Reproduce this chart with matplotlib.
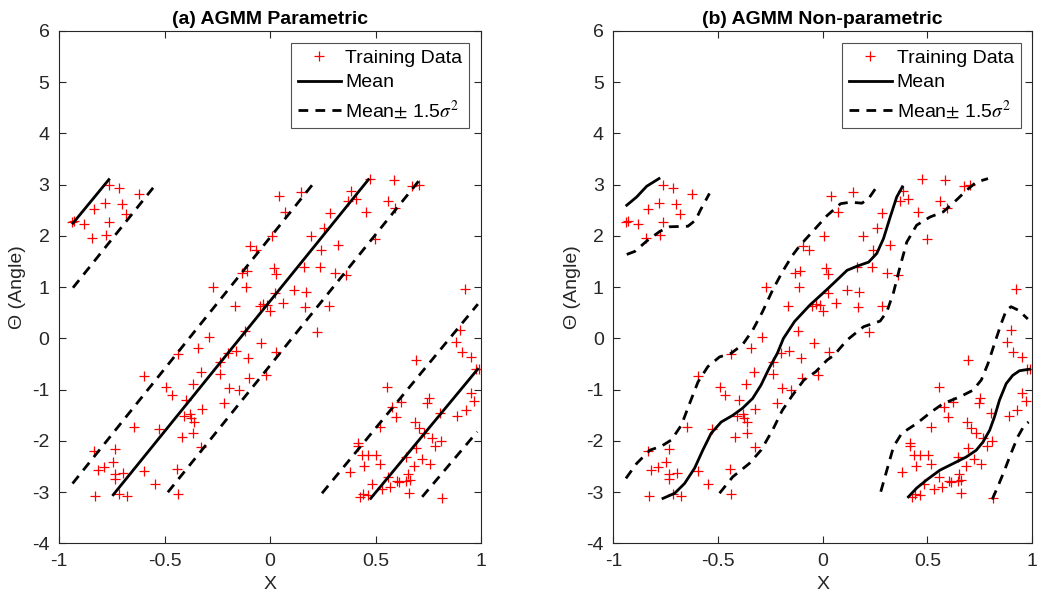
import matplotlib
matplotlib.use("Agg")
import matplotlib.pyplot as plt

plt.rcParams['font.family'] = ['Liberation Sans', 'DejaVu Sans']
plt.rcParams['mathtext.fontset'] = 'stix'
plt.rcParams['axes.unicode_minus'] = False

# training data (shared by both panels)
train_x = [
    -0.940, -0.929, -0.884, -0.845, -0.834, -0.778, -0.782, -0.762, -0.762, -0.717,
    -0.701, -0.682, -0.623, -0.272, -0.166, -0.289,
    -0.436, -0.341, -0.199, -0.161, -0.596, -0.327, -0.240, -0.365, -0.493, -0.465,
    -0.398, -0.324, -0.219, -0.193, -0.150, -0.098, -0.022, -0.408, -0.379, -0.374,
    -0.362, -0.647, -0.528, -0.417, -0.364, -0.326, -0.835, -0.734, -0.747, -0.818,
    -0.786, -0.734, -0.734, -0.696, -0.596, -0.547, -0.443, -0.829, -0.715, -0.679,
    -0.436, -0.240,
    0.040, 0.146, 0.072, 0.008, -0.094, -0.066, -0.134, -0.110, -0.113, 0.016,
    0.026, 0.023, -0.050, -0.034, -0.015, 0.000, 0.061, 0.114, 0.171, 0.167,
    0.162, 0.236, 0.241, 0.194, 0.257, 0.285, 0.320, 0.309, 0.361, 0.222,
    -0.044, -0.118, 0.029, -0.103, 0.385, 0.368, 0.409, 0.472, 0.586, 0.453,
    0.558, 0.594, 0.673, 0.705, 0.498,
    0.281, 0.922, 0.900, 0.881, 0.909, 0.953, 0.694, 0.975, 0.991, 0.953,
    0.969, 0.928, 0.887, 0.555, 0.752, 0.744, 0.580, 0.621, 0.599, 0.804,
    0.519, 0.687, 0.706, 0.732, 0.767, 0.782, 0.808, 0.418, 0.418, 0.437,
    0.463, 0.504, 0.694, 0.646, 0.721, 0.757, 0.684, 0.447, 0.519, 0.380,
    0.557, 0.485, 0.532, 0.567, 0.611, 0.602, 0.652, 0.662, 0.646, 0.659,
    0.428, 0.441, 0.463, 0.814,
]
train_y = [
    2.27, 2.29, 2.24, 1.97, 2.53, 2.01, 2.64, 2.28, 2.99, 2.93,
    2.62, 2.42, 2.81, 1.00, 0.64, 0.02,
    -0.31, -0.195, -0.29, -0.25, -0.73, -0.65, -0.70, -0.88, -0.94, -1.11,
    -1.20, -1.38, -1.25, -0.97, -1.01, -0.78, -0.72, -1.51, -1.48, -1.56,
    -1.63, -1.73, -1.77, -1.93, -1.85, -2.12, -2.20, -2.16, -2.41, -2.57,
    -2.51, -2.65, -2.75, -2.62, -2.58, -2.84, -2.55, -3.07, -3.04, -3.07,
    -3.04, -0.46,
    2.78, 2.85, 2.46, 1.99, 1.80, 1.72, 1.27, 1.31, 1.01, 1.38,
    1.25, 0.89, 0.64, 0.68, 0.65, 0.54, 0.69, 0.95, 0.91, 0.62,
    1.39, 1.39, 1.72, 1.99, 2.16, 2.44, 1.83, 1.27, 1.23, 0.12,
    -0.08, 0.14, -0.27, -0.39, 2.87, 2.68, 2.72, 3.11, 3.10, 2.47,
    2.68, 2.55, 2.97, 2.99, 1.94,
    0.63, 0.96, 0.16, -0.07, -0.26, -0.36, -0.42, -0.60, -0.60, -1.07,
    -1.22, -1.40, -1.51, -0.94, -1.17, -1.25, -1.33, -1.24, -1.53, -1.45,
    -1.73, -1.63, -1.75, -1.84, -1.94, -2.09, -2.01, -2.03, -2.09, -2.27,
    -2.27, -2.28, -2.14, -2.32, -2.36, -2.45, -2.49, -2.48, -2.45, -2.61,
    -2.71, -2.83, -2.93, -2.89, -2.80, -2.78, -2.65, -2.76, -2.79, -3.02,
    -3.09, -3.04, -3.05, -3.12,
]

# (a) parametric fit: each curve is a list of wrapped segments (x list, y list)
param_mean = [
    ([-0.935, -0.765], [2.25, 3.10]),
    ([-0.744, 0.466], [-3.05, 3.10]),
    ([0.477, 0.984], [-3.12, -0.60]),
]
param_upper = [
    ([-0.937, 0.214], [-2.83, 3.07]),
    ([0.246, 0.985], [-3.02, 0.67]),
]
param_lower = [
    ([-0.935, -0.555], [0.99, 2.94]),
    ([-0.485, 0.708], [-3.00, 3.09]),
    ([0.721, 0.982], [-3.09, -1.82]),
]

# (b) non-parametric fit
nonpar_mean = [
    ([-0.936, -0.889, -0.841, -0.782], [2.60, 2.76, 2.97, 3.12]),
    ([-0.763, -0.707, -0.660, -0.612, -0.573, -0.533, -0.485, -0.430, -0.383, -0.335,
      -0.295, -0.256, -0.217, -0.188, -0.135, -0.062, 0.021, 0.070, 0.116, 0.163,
      0.219, 0.258, 0.290, 0.322, 0.353, 0.380],
     [-3.12, -3.02, -2.83, -2.53, -2.18, -1.85, -1.63, -1.50, -1.36, -1.17,
      -0.91, -0.58, -0.29, 0.00, 0.33, 0.65, 0.96, 1.15, 1.33, 1.41,
      1.49, 1.66, 1.95, 2.37, 2.76, 2.96]),
    ([0.409, 0.448, 0.496, 0.559, 0.623, 0.686, 0.733, 0.765, 0.797, 0.820,
      0.844, 0.876, 0.907, 0.939, 0.987],
     [-3.09, -2.92, -2.76, -2.57, -2.44, -2.31, -2.18, -2.02, -1.79, -1.53,
      -1.20, -0.88, -0.72, -0.63, -0.60]),
]
nonpar_upper = [
    ([-0.940, -0.889, -0.826, -0.770, -0.723, -0.675, -0.636, -0.596, -0.549, -0.493,
      -0.438, -0.383, -0.335, -0.288, -0.240, -0.193, -0.145, -0.110, -0.050, 0.021,
      0.085, 0.132, 0.187, 0.219, 0.251],
     [-2.73, -2.44, -2.18, -2.10, -1.98, -1.69, -1.27, -0.85, -0.55, -0.36,
      -0.29, -0.12, 0.16, 0.52, 0.94, 1.30, 1.62, 1.81, 2.08, 2.40,
      2.63, 2.66, 2.64, 2.73, 2.92]),
    ([0.277, 0.306, 0.338, 0.377, 0.448, 0.519, 0.575, 0.654, 0.717, 0.757,
      0.789, 0.820, 0.852, 0.876, 0.899, 0.935, 0.979],
     [-2.99, -2.57, -2.11, -1.85, -1.66, -1.43, -1.27, -1.14, -1.01, -0.81,
      -0.49, -0.10, 0.29, 0.55, 0.62, 0.55, 0.38]),
]
nonpar_lower = [
    ([-0.936, -0.897, -0.841, -0.778, -0.731, -0.644, -0.607, -0.585, -0.541],
     [1.64, 1.70, 1.90, 2.09, 2.18, 2.19, 2.31, 2.50, 2.83]),
    ([-0.493, -0.430, -0.351, -0.295, -0.240, -0.193, -0.145, -0.090, -0.034, 0.021,
      0.053, 0.116, 0.195, 0.274, 0.306, 0.338, 0.369, 0.401, 0.448, 0.512,
      0.575, 0.638, 0.686, 0.733, 0.789],
     [-3.02, -2.70, -2.44, -2.18, -1.79, -1.40, -1.11, -0.81, -0.65, -0.42,
      -0.33, -0.03, 0.23, 0.34, 0.52, 0.90, 1.40, 1.88, 2.21, 2.37,
      2.47, 2.70, 2.89, 3.05, 3.12]),
    ([0.809, 0.836, 0.868, 0.899, 0.931, 0.963, 0.983],
     [-3.14, -2.89, -2.57, -2.24, -1.92, -1.69, -1.63]),
]

titles = ['(a) AGMM Parametric', '(b) AGMM Non-parametric']
x_ticks = [-1, -0.5, 0, 0.5, 1]
x_ticklabels = ['-1', '-0.5', '0', '0.5', '1']
y_ticks = list(range(-4, 7))

AX_COLOR = '#262626'
DASHES = (3.5, 2.6)


def draw_panel(ax, title, mean, upper, lower):
    ax.plot(train_x, train_y, '+', color='red', markersize=6.5, mew=0.9,
            label='Training Data')
    for i, (xs, ys) in enumerate(mean):
        ax.plot(xs, ys, '-', color='black', lw=2, label='Mean' if i == 0 else None)
    for i, (xs, ys) in enumerate(upper + lower):
        ax.plot(xs, ys, '--', color='black', lw=2, dashes=DASHES,
                label=r'Mean$\pm$ 1.5$\sigma^2$' if i == 0 else None)

    ax.set_xlim(-1, 1)
    ax.set_ylim(-4, 6)
    ax.set_xticks(x_ticks)
    ax.set_xticklabels(x_ticklabels)
    ax.set_yticks(y_ticks)
    ax.tick_params(direction='in', length=5, width=0.8, top=True, right=True,
                   labelsize=14, colors=AX_COLOR, pad=7)
    for sp in ax.spines.values():
        sp.set_color(AX_COLOR)
        sp.set_linewidth(0.8)
    ax.set_xlabel('X', fontsize=14, color=AX_COLOR, labelpad=4)
    ax.set_ylabel('Θ (Angle)', fontsize=14, color=AX_COLOR, labelpad=4)
    ax.set_title(title, fontsize=14, fontweight='bold', pad=5)

    leg = ax.legend(loc='upper right', fontsize=14, frameon=True, fancybox=False,
                    borderaxespad=0.6, handlelength=2.2, handletextpad=0.25,
                    labelspacing=0.35, borderpad=0.35)
    leg.get_frame().set_edgecolor(AX_COLOR)
    leg.get_frame().set_linewidth(0.8)


fig = plt.figure(figsize=(10.38, 6.04), dpi=100)
ax1 = fig.add_axes([0.0571, 0.1002, 0.4063, 0.8485])
ax2 = fig.add_axes([0.5909, 0.1002, 0.4035, 0.8485])

draw_panel(ax1, titles[0], param_mean, param_upper, param_lower)
draw_panel(ax2, titles[1], nonpar_mean, nonpar_upper, nonpar_lower)

fig.savefig('out.png', dpi=100)
